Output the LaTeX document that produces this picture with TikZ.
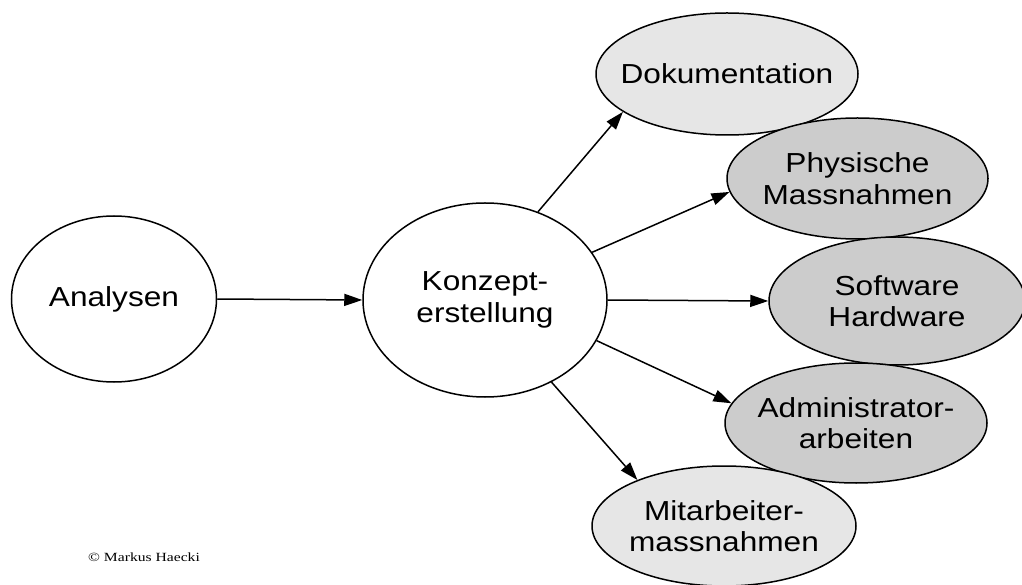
\documentclass[tikz,border=0pt]{standalone}
\usepackage{fontspec}
\setmainfont{Liberation Sans}[FakeStretch=1.15]
\newfontfamily\copyfont{Liberation Serif}[FakeStretch=1.25]
\usetikzlibrary{shapes.geometric,arrows.meta}
\definecolor{lightfill}{RGB}{230,230,230}
\definecolor{darkfill}{RGB}{204,204,204}
\tikzset{
  oval/.style={ellipse, draw=black, line width=1.5pt, inner sep=0pt},
  lightoval/.style={oval, fill=lightfill},
  darkoval/.style={oval, fill=darkfill},
  whiteoval/.style={oval, fill=white},
  caption/.style={font=\fontsize{27.5}{31.5}\selectfont, align=center, inner sep=0pt},
  flow/.style={line width=1.5pt, -{Triangle[length=18pt,width=12pt]}},
}
\begin{document}
\begin{tikzpicture}[x=1pt,y=1pt]
\useasboundingbox (0,0) rectangle (1022,584);

% main chain
\node[whiteoval, minimum width=205pt, minimum height=166pt] (ana) at (114,285) {};
\node[caption] (ana-t) at (ana) {Analysen};
\node[whiteoval, minimum width=244pt, minimum height=194pt] (kon) at (485,284) {};
\node[caption] (kon-t) at (kon) {Konzept-\\erstellung};

% resulting measures
\node[lightoval, minimum width=262pt, minimum height=122pt] (doku) at (727,510) {};
\node[caption] (doku-t) at (doku) {Dokumentation};
\node[darkoval, minimum width=261pt, minimum height=121pt] (phys) at (857.5,405.5) {};
\node[caption] (phys-t) at (phys) {Physische\\Massnahmen};
\node[darkoval, minimum width=256pt, minimum height=128pt] (soft) at (897,283) {};
\node[caption] (soft-t) at (soft) {Software\\Hardware};
\node[darkoval, minimum width=262pt, minimum height=120pt] (admin) at (856,161) {};
\node[caption] (admin-t) at (admin) {Administrator-\\arbeiten};
\node[lightoval, minimum width=264pt, minimum height=120pt] (mit) at (724,58) {};
\node[caption] (mit-t) at (mit) {Mitarbeiter-\\massnahmen};

% connectors
\draw[flow] (ana.0) -- (kon.180);
\draw[flow] (kon.59.4) -- (doku.200.9);
\draw[flow] (kon.24.8) -- (phys.186.4);
\draw[flow] (kon.0) -- (soft.180);
\draw[flow] (kon.-20.4) -- (admin.171);
\draw[flow] (kon.-51.8) -- (mit.152);

% credit
\node[anchor=base west, inner sep=0pt, font=\copyfont\fontsize{12.5}{14}\selectfont] (credit) at (88,23) {© Markus Haecki};
\end{tikzpicture}
\end{document}
